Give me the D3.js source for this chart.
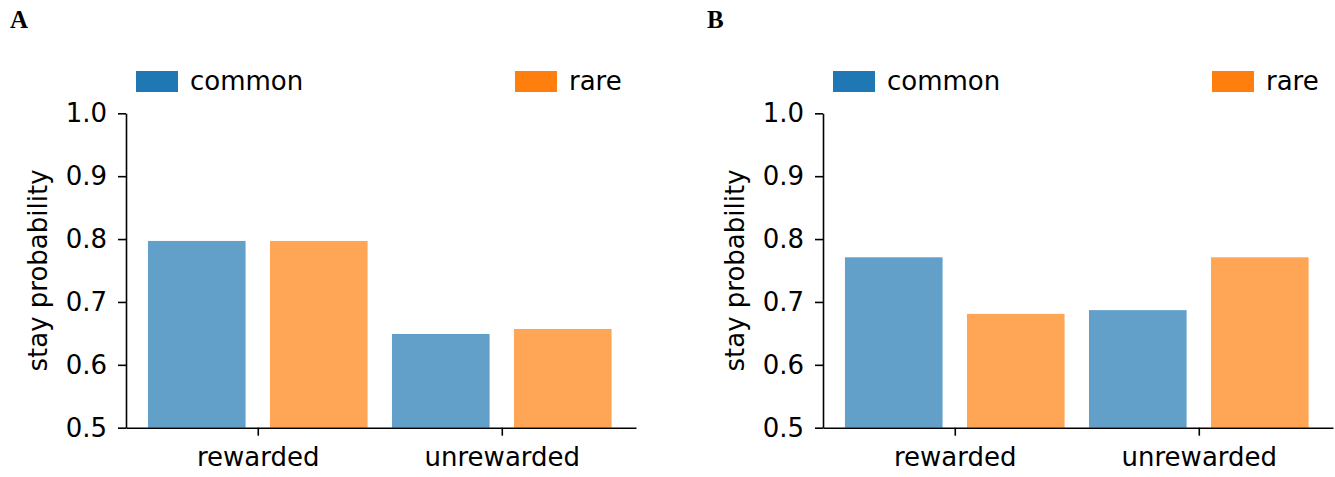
<!DOCTYPE html>
<html>
<head>
<meta charset="utf-8">
<script src="https://cdn.jsdelivr.net/npm/d3@7"></script>
<style>
  body { margin: 0; background: #fff; }
  svg text { font-family: "DejaVu Sans", sans-serif; }
</style>
</head>
<body>
<div id="chart"></div>
<script>
// Data
const categories = ['rewarded', 'unrewarded'];
const series = ['common', 'rare'];
const panelNames = ['A', 'B'];
const commonA = [0.797, 0.649];
const rareA = [0.797, 0.657];
const commonB = [0.771, 0.687];
const rareB = [0.681, 0.771];
const yTicks = [0.5, 0.6, 0.7, 0.8, 0.9, 1.0];

// Visual
const width = 1335;
const height = 477;
const solid = ['#1f77b4', '#ff7f0e'];
const fontSize = 26;

const svg = d3.select('#chart')
  .append('svg')
  .attr('width', width)
  .attr('height', height);

const panels = [
  { name: panelNames[0], left: 126, values: [commonA, rareA] },
  { name: panelNames[1], left: 823, values: [commonB, rareB] }
];

panels.forEach(p => {
  const g = svg.append('g');

  const x = d3.scaleLinear()
    .domain([-0.54, 1.55])
    .range([p.left, p.left + 510]);

  const y = d3.scaleLinear()
    .domain([0.5, 1.0])
    .range([427.7, 113.3]);

  // bars
  const offsets = [-0.25, 0.25];
  const barW = x(0.4) - x(0);
  series.forEach((s, si) => {
    g.selectAll('rect.' + s)
      .data(p.values[si])
      .enter()
      .append('rect')
      .attr('class', s)
      .attr('x', (d, i) => x(i + offsets[si]) - barW / 2)
      .attr('y', d => y(d))
      .attr('width', barW)
      .attr('height', d => y(0.5) - y(d))
      .attr('fill', solid[si])
      .attr('fill-opacity', 0.7);
  });

  // axes
  const yAxis = g.append('g')
    .attr('transform', `translate(${p.left},0)`)
    .call(d3.axisLeft(y).tickValues(yTicks).tickFormat(d3.format('.1f'))
      .tickSize(8).tickPadding(11).tickSizeOuter(0));

  const xAxis = g.append('g')
    .attr('transform', `translate(0,${y(0.5)})`)
    .call(d3.axisBottom(x).tickValues([0, 1]).tickFormat((d, i) => categories[i])
      .tickSize(8).tickPadding(12).tickSizeOuter(0));

  [yAxis, xAxis].forEach(a => {
    a.selectAll('path, line').attr('stroke', '#000').attr('stroke-width', 1.6);
    a.selectAll('text')
      .attr('fill', '#000')
      .style('font-size', fontSize + 'px')
      .style('font-family', '"DejaVu Sans", sans-serif');
  });

  // y label
  g.append('text')
    .attr('transform', `translate(${p.left - 79},${(y(0.5) + y(1.0)) / 2}) rotate(-90)`)
    .attr('text-anchor', 'middle')
    .style('font-size', fontSize + 'px')
    .text('stay probability');

  // legend
  const legendX = [p.left + 10, p.left + 389];
  series.forEach((s, si) => {
    g.append('rect')
      .attr('x', legendX[si])
      .attr('y', 71)
      .attr('width', 42)
      .attr('height', 21)
      .attr('fill', solid[si]);
    g.append('text')
      .attr('x', legendX[si] + 54)
      .attr('y', 90)
      .style('font-size', fontSize + 'px')
      .text(s);
  });

  // panel label
  g.append('text')
    .attr('x', p.left - 116)
    .attr('y', 28)
    .style('font-family', '"Liberation Serif", "Times New Roman", serif')
    .style('font-weight', 'bold')
    .style('font-size', '25px')
    .text(p.name);
});
</script>
</body>
</html>
